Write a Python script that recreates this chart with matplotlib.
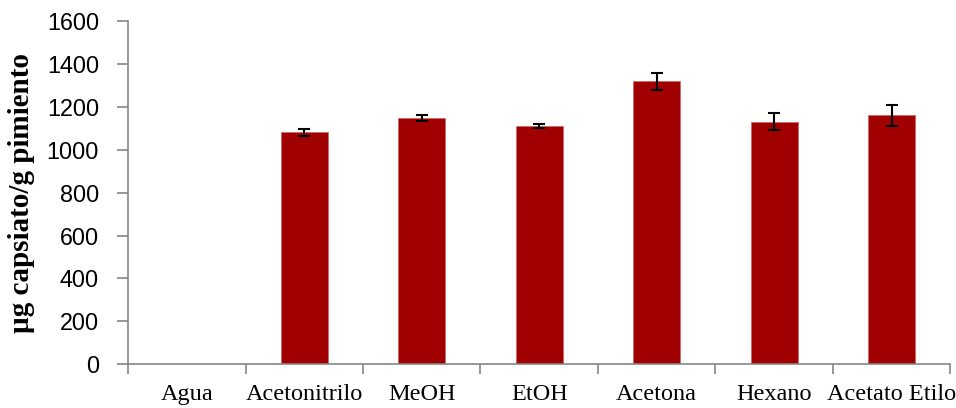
import numpy as np
import matplotlib.pyplot as plt

# Datos
disolventes = ['Agua', 'Acetonitrilo', 'MeOH', 'EtOH', 'Acetona', 'Hexano', 'Acetato Etilo']
capsiato = [0, 1080, 1147, 1110, 1318, 1130, 1160]
error = [0, 18, 12, 8, 38, 39, 50]

gris = '#868686'

fig = plt.figure(figsize=(9.56, 4.08), dpi=100)
ax = fig.add_axes([0.134, 0.107, 0.860, 0.842])

x = np.arange(len(disolventes))
ax.bar(x, capsiato, width=0.4, color='#A00000', edgecolor='#C86A6A', linewidth=0.6, zorder=2)
ax.errorbar(x[1:], capsiato[1:], yerr=error[1:], fmt='none', ecolor='black',
            elinewidth=1.5, capsize=4.5, capthick=1.5, zorder=3)

ax.set_xlim(-0.5, len(disolventes) - 0.5)
ax.set_ylim(0, 1600)
ax.set_yticks(np.arange(0, 1601, 200))

# etiquetas eje x (centradas) y marcas entre categorías
ax.set_xticks(x)
ax.set_xticklabels(disolventes, family='Liberation Serif', fontsize=17.5)
ax.tick_params(axis='x', which='major', length=0, pad=14)
ax.set_xticks(np.arange(-0.5, len(disolventes)), minor=True)
ax.tick_params(axis='x', which='minor', length=7, width=1.2, color=gris, direction='out')

for lbl in ax.get_yticklabels():
    lbl.set_family('Liberation Sans')
    lbl.set_fontsize(16.8)
ax.tick_params(axis='y', length=8, width=1.2, color=gris, pad=13)

ax.set_ylabel('µg capsiato/g pimiento', family='Liberation Serif', fontweight='bold',
              fontsize=21, labelpad=8)

for s in ['top', 'right']:
    ax.spines[s].set_visible(False)
for s in ['left', 'bottom']:
    ax.spines[s].set_color(gris)
    ax.spines[s].set_linewidth(1.2)

plt.savefig('out.png', dpi=100)
